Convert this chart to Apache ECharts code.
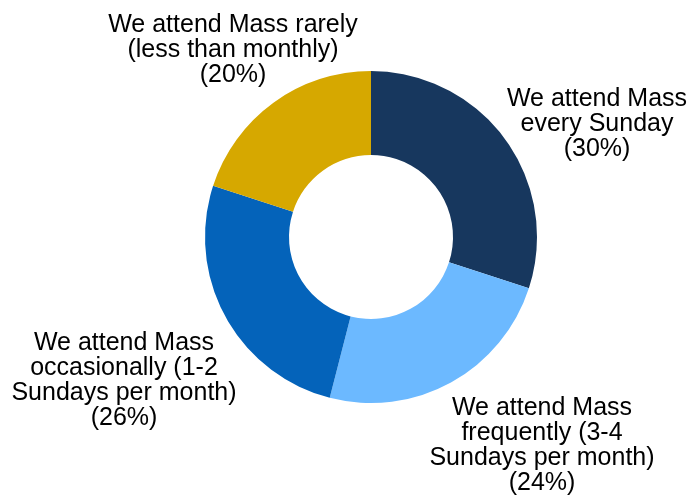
<!DOCTYPE html>
<html>
<head>
<meta charset="utf-8">
<script src="https://cdn.jsdelivr.net/npm/echarts@6/dist/echarts.min.js"></script>
<style>
  html, body { margin: 0; padding: 0; background: #fff; }
  #mass-chart { width: 691px; height: 500px; }
</style>
</head>
<body>
<div id="mass-chart"></div>
<script>
// data
const categories = [
  'We attend Mass\nevery Sunday',
  'We attend Mass\nfrequently (3-4\nSundays per month)',
  'We attend Mass\noccasionally (1-2\nSundays per month)',
  'We attend Mass rarely\n(less than monthly)'
];
const shares = [30, 24, 26, 20];

// styling
const sliceColors = ['#17375E', '#6CB9FF', '#0463BA', '#D6A800'];
// label block centres (px) for each slice
const labelCentres = [[597, 124], [542, 446], [124, 381], [233, 50]];

const chartDom = document.getElementById('mass-chart');
const myChart = echarts.init(chartDom);

const option = {
  animation: false,
  series: [
    {
      type: 'pie',
      center: [371, 237],
      radius: [82, 166],
      startAngle: 90,
      clockwise: true,
      avoidLabelOverlap: false,
      itemStyle: { borderWidth: 0 },
      label: {
        show: true,
        position: 'outside',
        formatter: function (p) {
          return p.name + '\n(' + p.value + '%)';
        },
        color: '#000',
        fontFamily: 'Liberation Sans',
        fontSize: 25,
        lineHeight: 25,
        align: 'center'
      },
      labelLine: { show: false },
      labelLayout: function (params) {
        const c = labelCentres[params.dataIndex];
        return { x: c[0], y: c[1], align: 'center', verticalAlign: 'middle' };
      },
      emphasis: { disabled: true },
      data: categories.map(function (name, i) {
        return { name: name, value: shares[i], itemStyle: { color: sliceColors[i] } };
      })
    }
  ]
};
myChart.setOption(option);
window.addEventListener('resize', function () {
  myChart.resize();
});
</script>
</body>
</html>
